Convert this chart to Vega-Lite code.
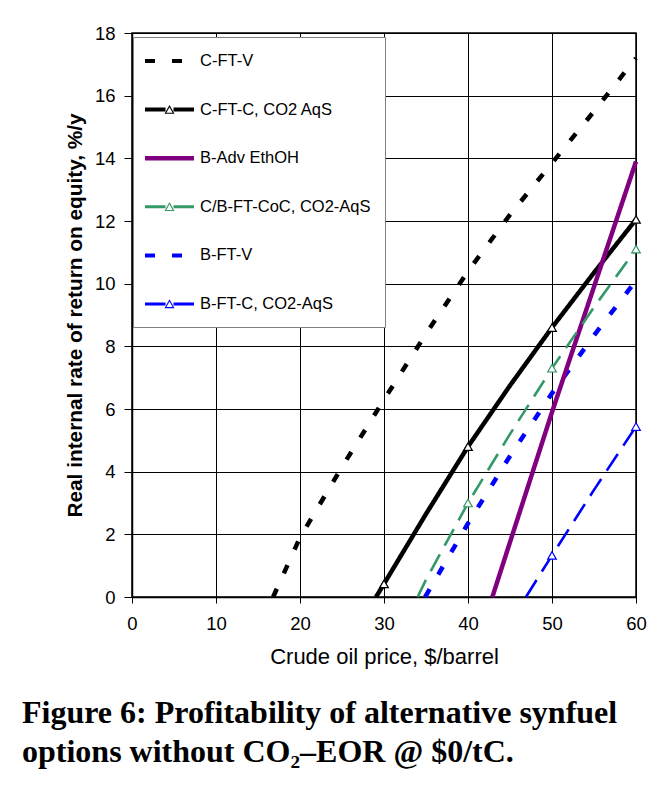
{
  "$schema": "https://vega.github.io/schema/vega-lite/v6.json",
  "width": 504,
  "height": 564,
  "autosize": {"type": "none"},
  "padding": {"left": 132, "top": 33, "right": 19, "bottom": 189},
  "background": "white",
  "config": {
    "view": {"stroke": "black", "strokeWidth": 1.5},
    "axis": {
      "labelFont": "Liberation Sans",
      "labelFontSize": 18.5,
      "labelColor": "black",
      "titleFont": "Liberation Sans",
      "titleColor": "black",
      "domainColor": "black",
      "domainWidth": 1.5,
      "tickColor": "black",
      "tickWidth": 1,
      "gridColor": "black",
      "gridOpacity": 1,
      "gridWidth": 1
    }
  },
  "title": {
    "text": ["Figure 6: Profitability of alternative synfuel", "options without CO₂–EOR @ $0/tC."],
    "orient": "bottom",
    "anchor": "start",
    "frame": "group",
    "dx": -110,
    "offset": 30,
    "font": "Liberation Serif",
    "fontSize": 32,
    "fontWeight": "bold",
    "lineHeight": 39,
    "color": "black"
  },
  "data": {
    "values": [
      {"series": "C-FT-V", "price": 16.8, "irr": 0},
      {"series": "C-FT-V", "price": 20, "irr": 1.9},
      {"series": "C-FT-V", "price": 25, "irr": 4.15},
      {"series": "C-FT-V", "price": 30, "irr": 6.3},
      {"series": "C-FT-V", "price": 35, "irr": 8.4},
      {"series": "C-FT-V", "price": 40, "irr": 10.4},
      {"series": "C-FT-V", "price": 45, "irr": 12.2},
      {"series": "C-FT-V", "price": 50, "irr": 13.85},
      {"series": "C-FT-V", "price": 55, "irr": 15.5},
      {"series": "C-FT-V", "price": 60, "irr": 17.2},
      {"series": "C-FT-C, CO2 AqS", "price": 29.05, "irr": 0},
      {"series": "C-FT-C, CO2 AqS", "price": 30, "irr": 0.42},
      {"series": "C-FT-C, CO2 AqS", "price": 35, "irr": 2.65},
      {"series": "C-FT-C, CO2 AqS", "price": 40, "irr": 4.8},
      {"series": "C-FT-C, CO2 AqS", "price": 45, "irr": 6.75},
      {"series": "C-FT-C, CO2 AqS", "price": 50, "irr": 8.6},
      {"series": "C-FT-C, CO2 AqS", "price": 55, "irr": 10.35},
      {"series": "C-FT-C, CO2 AqS", "price": 60, "irr": 12.05},
      {"series": "C/B-FT-CoC, CO2-AqS", "price": 34, "irr": 0},
      {"series": "C/B-FT-CoC, CO2-AqS", "price": 35, "irr": 0.55},
      {"series": "C/B-FT-CoC, CO2-AqS", "price": 40, "irr": 3.0},
      {"series": "C/B-FT-CoC, CO2-AqS", "price": 45, "irr": 5.2},
      {"series": "C/B-FT-CoC, CO2-AqS", "price": 50, "irr": 7.3},
      {"series": "C/B-FT-CoC, CO2-AqS", "price": 55, "irr": 9.25},
      {"series": "C/B-FT-CoC, CO2-AqS", "price": 60, "irr": 11.1},
      {"series": "B-FT-V", "price": 34.9, "irr": 0},
      {"series": "B-FT-V", "price": 40, "irr": 2.35},
      {"series": "B-FT-V", "price": 45, "irr": 4.5},
      {"series": "B-FT-V", "price": 50, "irr": 6.5},
      {"series": "B-FT-V", "price": 55, "irr": 8.35},
      {"series": "B-FT-V", "price": 60, "irr": 10.1},
      {"series": "B-FT-C, CO2-AqS", "price": 46.9, "irr": 0},
      {"series": "B-FT-C, CO2-AqS", "price": 50, "irr": 1.33},
      {"series": "B-FT-C, CO2-AqS", "price": 55, "irr": 3.42},
      {"series": "B-FT-C, CO2-AqS", "price": 60, "irr": 5.44},
      {"series": "B-Adv EthOH", "price": 42.9, "irr": 0},
      {"series": "B-Adv EthOH", "price": 45, "irr": 1.75},
      {"series": "B-Adv EthOH", "price": 50, "irr": 5.9},
      {"series": "B-Adv EthOH", "price": 55, "irr": 9.9},
      {"series": "B-Adv EthOH", "price": 60, "irr": 13.9}
    ]
  },
  "encoding": {
    "x": {
      "field": "price",
      "type": "quantitative",
      "scale": {"domain": [0, 60], "nice": false, "zero": false},
      "axis": {
        "title": "Crude oil price, $/barrel",
        "titleFontSize": 22,
        "titleFontWeight": "normal",
        "titlePadding": 14,
        "values": [0, 10, 20, 30, 40, 50, 60],
        "tickSize": 6,
        "labelPadding": 11,
        "labelFlush": false
      }
    },
    "y": {
      "field": "irr",
      "type": "quantitative",
      "scale": {"domain": [0, 18], "nice": false},
      "axis": {
        "title": "Real internal rate of return on equity, %/y",
        "titleFontSize": 20.8,
        "titleFontWeight": "bold",
        "titlePadding": 9,
        "values": [0, 2, 4, 6, 8, 10, 12, 14, 16, 18],
        "tickSize": 8,
        "labelPadding": 9,
        "labelFlush": false
      }
    }
  },
  "layer": [
    {
      "mark": {"type": "square", "filled": true, "size": 0, "opacity": 1},
      "encoding": {
        "fill": {
          "field": "series",
          "type": "nominal",
          "scale": {
            "domain": ["C-FT-V", "C-FT-C, CO2 AqS", "B-Adv EthOH", "C/B-FT-CoC, CO2-AqS", "B-FT-V", "B-FT-C, CO2-AqS"],
            "range": ["#000000", "#000000", "#800080", "#339966", "#0000FF", "#0000FF"]
          },
          "legend": {
            "title": null,
            "orient": "none",
            "legendX": 1,
            "legendY": 4,
            "direction": "vertical",
            "padding": 14,
            "strokeColor": "#808080",
            "fillColor": "white",
            "symbolSize": 400,
            "symbolStrokeWidth": 0,
            "symbolOpacity": 1,
            "rowPadding": 29.6,
            "labelFont": "Liberation Sans",
            "labelFontSize": 16.5,
            "labelColor": "black",
            "labelOffset": 33,
            "labelLimit": 300,
            "encode": {
              "symbols": {
                "update": {
                  "shape": {"signal": "datum.value === 'C-FT-V' || datum.value === 'B-FT-V' ? 'M-1.2,-0.2L-0.2,-0.2L-0.2,0.2L-1.2,0.2Z M1.5,-0.2L2.5,-0.2L2.5,0.2L1.5,0.2Z' : datum.value === 'B-Adv EthOH' ? 'M-1.2,-0.22L3.7,-0.22L3.7,0.22L-1.2,0.22Z' : datum.value === 'C-FT-C, CO2 AqS' ? 'M-1.2,-0.2L0.85,-0.2L0.85,0.2L-1.2,0.2Z M1.65,-0.2L3.7,-0.2L3.7,0.2L1.65,0.2Z M1.25,-0.47L1.75,0.42L1.562,0.31L1.25,-0.245Z M1.75,0.42L0.75,0.42L0.938,0.31L1.562,0.31Z M0.75,0.42L1.25,-0.47L1.25,-0.245L0.938,0.31Z' : 'M-1.2,-0.15L0.85,-0.15L0.85,0.15L-1.2,0.15Z M1.65,-0.15L3.7,-0.15L3.7,0.15L1.65,0.15Z M1.25,-0.47L1.75,0.42L1.562,0.31L1.25,-0.245Z M1.75,0.42L0.75,0.42L0.938,0.31L1.562,0.31Z M0.75,0.42L1.25,-0.47L1.25,-0.245L0.938,0.31Z'"},
                  "stroke": {"value": "transparent"},
                  "strokeOpacity": {"value": 0},
                  "strokeWidth": {"value": 0},
                  "opacity": {"value": 1}
                }
              }
            }
          }
        }
      }
    },
    {
      "transform": [
        {"filter": "indexof(['C-FT-V', 'C-FT-C, CO2 AqS', 'B-Adv EthOH', 'B-FT-V'], datum.series) >= 0"}
      ],
      "mark": {"type": "line", "strokeCap": "butt", "strokeWidth": 4.5},
      "encoding": {
        "color": {
          "field": "series",
          "type": "nominal",
          "scale": {
            "domain": ["B-FT-C, CO2-AqS", "B-FT-V", "C/B-FT-CoC, CO2-AqS", "B-Adv EthOH", "C-FT-C, CO2 AqS", "C-FT-V"],
            "range": ["#0000FF", "#0000FF", "#339966", "#800080", "#000000", "#000000"]
          },
          "legend": null
        },
        "strokeDash": {
          "field": "series",
          "type": "nominal",
          "scale": {
            "domain": ["B-FT-C, CO2-AqS", "B-FT-V", "C/B-FT-CoC, CO2-AqS", "B-Adv EthOH", "C-FT-C, CO2 AqS", "C-FT-V"],
            "range": [[20, 10], [9, 17], [19, 10], [1, 0], [1, 0], [9, 17]]
          },
          "legend": null
        }
      }
    },
    {
      "transform": [
        {"filter": "indexof(['C/B-FT-CoC, CO2-AqS', 'B-FT-C, CO2-AqS'], datum.series) >= 0"}
      ],
      "mark": {"type": "line", "strokeCap": "butt", "strokeWidth": 2.6},
      "encoding": {
        "color": {
          "field": "series",
          "type": "nominal",
          "scale": {
            "domain": ["B-FT-C, CO2-AqS", "B-FT-V", "C/B-FT-CoC, CO2-AqS", "B-Adv EthOH", "C-FT-C, CO2 AqS", "C-FT-V"],
            "range": ["#0000FF", "#0000FF", "#339966", "#800080", "#000000", "#000000"]
          },
          "legend": null
        },
        "strokeDash": {
          "field": "series",
          "type": "nominal",
          "scale": {
            "domain": ["B-FT-C, CO2-AqS", "B-FT-V", "C/B-FT-CoC, CO2-AqS", "B-Adv EthOH", "C-FT-C, CO2 AqS", "C-FT-V"],
            "range": [[20, 10], [9, 17], [19, 10], [1, 0], [1, 0], [9, 17]]
          },
          "legend": null
        }
      }
    },
    {
      "transform": [
        {"filter": "indexof(['C-FT-C, CO2 AqS', 'C/B-FT-CoC, CO2-AqS', 'B-FT-C, CO2-AqS'], datum.series) >= 0 && datum.price % 10 == 0"}
      ],
      "mark": {"type": "point", "shape": "triangle-up", "filled": false, "fill": "white", "fillOpacity": 1, "strokeWidth": 1.2, "size": 75, "opacity": 1},
      "encoding": {
        "stroke": {
          "field": "series",
          "type": "nominal",
          "scale": {
            "domain": ["C-FT-C, CO2 AqS", "C/B-FT-CoC, CO2-AqS", "B-FT-C, CO2-AqS"],
            "range": ["#000000", "#339966", "#0000FF"]
          },
          "legend": null
        }
      }
    }
  ]
}
